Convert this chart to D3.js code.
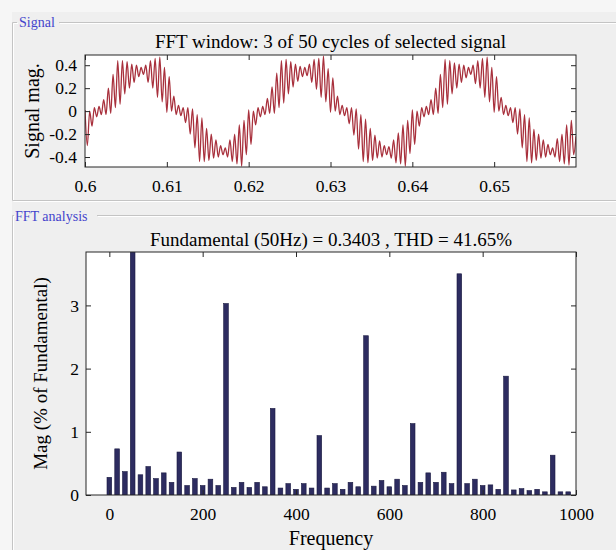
<!DOCTYPE html>
<html>
<head>
<meta charset="utf-8">
<script src="https://cdn.jsdelivr.net/npm/d3@7"></script>
<style>
  body { margin: 0; background: #efefef; }
  svg { display: block; }
  .tick text { font-family: "Liberation Serif", "Times New Roman", serif; font-size: 17.5px; fill: #000; }
  .tick line { stroke: #262626; }
  .domain { display: none; }
</style>
</head>
<body>
<div id="vis"></div>
<script>
// signal panel: extrema of the ripple (one value every sigDt seconds from sigT0)
const sigT0 = 0.6;
const sigDt = 0.02 / 70;
const sigValues = [
  // cycle 1
  0.01, -0.30, 0.00, -0.13, 0.03, -0.05, 0.04, -0.03, 0.10, -0.03,
  0.20, -0.02, 0.32, 0.03, 0.44, 0.06, 0.44, 0.15, 0.43, 0.20,
  0.41, 0.25, 0.40, 0.30, 0.38, 0.32, 0.40, 0.25, 0.44, 0.20,
  0.46, 0.12, 0.47, 0.08, 0.38, -0.01, 0.30, 0.00, 0.13, -0.03,
  0.05, -0.04, 0.03, -0.10, 0.03, -0.20, 0.02, -0.32, -0.03, -0.44,
  -0.06, -0.44, -0.15, -0.43, -0.20, -0.41, -0.25, -0.40, -0.30, -0.38,
  -0.32, -0.40, -0.25, -0.44, -0.20, -0.46, -0.12, -0.48, -0.08, -0.38,
  // cycle 2
  0.01, -0.29, 0.00, -0.12, 0.03, -0.05, 0.04, -0.03, 0.11, -0.02,
  0.21, -0.02, 0.33, 0.03, 0.44, 0.07, 0.45, 0.15, 0.43, 0.21,
  0.41, 0.26, 0.39, 0.30, 0.38, 0.31, 0.41, 0.25, 0.45, 0.19,
  0.46, 0.12, 0.48, 0.08, 0.37, -0.01, 0.29, 0.00, 0.13, -0.03,
  0.05, -0.04, 0.03, -0.11, 0.03, -0.21, 0.02, -0.33, -0.03, -0.44,
  -0.07, -0.45, -0.15, -0.43, -0.21, -0.41, -0.26, -0.40, -0.30, -0.38,
  -0.31, -0.41, -0.25, -0.45, -0.19, -0.46, -0.12, -0.48, -0.08, -0.37,
  // cycle 3
  0.01, -0.29, 0.00, -0.13, 0.03, -0.05, 0.04, -0.03, 0.10, -0.03,
  0.20, -0.02, 0.32, 0.03, 0.45, 0.06, 0.44, 0.15, 0.42, 0.20,
  0.41, 0.25, 0.40, 0.29, 0.38, 0.32, 0.40, 0.24, 0.44, 0.20,
  0.46, 0.12, 0.47, 0.08, 0.38, -0.01, 0.30, 0.00, 0.12, -0.03,
  0.05, -0.04, 0.03, -0.10, 0.03, -0.20, 0.02, -0.32, -0.03, -0.44,
  -0.06, -0.45, -0.16, -0.43, -0.20, -0.41, -0.25, -0.40, -0.29, -0.38,
  -0.32, -0.40, -0.24, -0.44, -0.20, -0.46, -0.12, -0.47, -0.08, -0.38,
  -0.22
];
const sigXTicks = [0.6, 0.61, 0.62, 0.63, 0.64, 0.65];
const sigYTicks = [-0.4, -0.2, 0, 0.2, 0.4];

// FFT panel: bins every 50/3 Hz, magnitude in % of fundamental (bin 3 = fundamental, 100%)
const binHz = 50 / 3;
const fftMag = [
  0.28, 0.73, 0.37, 100, 0.32, 0.45, 0.26, 0.35, 0.20, 0.68,
  0.15, 0.26, 0.15, 0.25, 0.15, 3.03, 0.12, 0.20, 0.12, 0.20,
  0.13, 1.37, 0.11, 0.18, 0.09, 0.18, 0.11, 0.94, 0.11, 0.18,
  0.09, 0.20, 0.13, 2.52, 0.14, 0.23, 0.13, 0.25, 0.15, 1.13,
  0.20, 0.35, 0.20, 0.36, 0.18, 3.50, 0.18, 0.25, 0.15, 0.16,
  0.09, 1.88, 0.08, 0.10, 0.07, 0.09, 0.05, 0.63, 0.05, 0.05
];
const fftXTicks = [0, 200, 400, 600, 800, 1000];
const fftYTicks = [0, 1, 2, 3];

const W = 616, H = 550;
const SERIF = '"Liberation Serif", "Times New Roman", serif';

const svg = d3.select("#vis").append("svg")
  .attr("width", W).attr("height", H);

// figure background + lighter outer strips
svg.append("rect").attr("width", W).attr("height", H).attr("fill", "#efefef");
svg.append("rect").attr("width", W).attr("height", 12).attr("fill", "#f6f6f6");
svg.append("rect").attr("width", 12).attr("height", H).attr("fill", "#f6f6f6");

// etched group-box lines
function etched(x1, y1, x2, y2) {
  svg.append("line").attr("x1", x1).attr("y1", y1).attr("x2", x2).attr("y2", y2)
    .attr("stroke", "#c4c4c4").attr("stroke-width", 1);
  svg.append("line").attr("x1", x1 + 1).attr("y1", y1 + 1).attr("x2", x2 + 1).attr("y2", y2 + 1)
    .attr("stroke", "#ffffff").attr("stroke-width", 1);
}
// Signal panel
etched(12.5, 22.5, 17, 22.5);
etched(59, 22.5, W, 22.5);
etched(12.5, 22.5, 12.5, 200.5);
etched(12.5, 200.5, W, 200.5);
// FFT panel
etched(12.5, 215.5, 14, 215.5);
etched(97, 215.5, W, 215.5);
etched(12.5, 215.5, 12.5, H);

svg.append("text").attr("x", 19).attr("y", 27)
  .attr("font-family", SERIF).attr("font-size", 14).attr("fill", "#4444cc")
  .text("Signal");
svg.append("text").attr("x", 15).attr("y", 221)
  .attr("font-family", SERIF).attr("font-size", 14).attr("fill", "#4444cc")
  .text("FFT analysis");

// ---------- signal plot ----------
const S = {left: 85, right: 576, top: 55, bottom: 167};
const X1 = d3.scaleLinear().domain([0.6, 0.66]).range([S.left, S.right]);
const Y1 = d3.scaleLinear().domain([-0.487, 0.489]).range([S.bottom, S.top]);

svg.append("rect").attr("x", S.left).attr("y", S.top)
  .attr("width", S.right - S.left).attr("height", S.bottom - S.top)
  .attr("fill", "#fff");

svg.append("clipPath").attr("id", "clip1").append("rect")
  .attr("x", S.left).attr("y", S.top)
  .attr("width", S.right - S.left).attr("height", S.bottom - S.top);

const sigLine = d3.line()
  .x((d, i) => X1(sigT0 + i * sigDt))
  .y(d => Y1(d))
  .curve(d3.curveMonotoneX);

svg.append("path").datum(sigValues)
  .attr("clip-path", "url(#clip1)")
  .attr("d", sigLine)
  .attr("fill", "none")
  .attr("stroke", "#a8303c")
  .attr("stroke-width", 1.3);

svg.append("g").attr("transform", "translate(0," + S.bottom + ")")
  .call(d3.axisBottom(X1).tickValues(sigXTicks).tickFormat(d3.format("")).tickSizeInner(-5).tickSizeOuter(0).tickPadding(13));
svg.append("g").attr("transform", "translate(0," + S.top + ")")
  .call(d3.axisTop(X1).tickValues(sigXTicks).tickFormat("").tickSizeInner(-5).tickSizeOuter(0));
svg.append("g").attr("transform", "translate(" + S.left + ",0)")
  .call(d3.axisLeft(Y1).tickValues(sigYTicks).tickFormat(d => d === 0 ? "0" : d3.format(".1f")(d).replace("\u2212", "-")).tickSizeInner(-5).tickSizeOuter(0).tickPadding(8));
svg.append("g").attr("transform", "translate(" + S.right + ",0)")
  .call(d3.axisRight(Y1).tickValues(sigYTicks).tickFormat("").tickSizeInner(-5).tickSizeOuter(0));

svg.append("rect").attr("x", S.left).attr("y", S.top)
  .attr("width", S.right - S.left).attr("height", S.bottom - S.top)
  .attr("fill", "none").attr("stroke", "#262626").attr("stroke-width", 1);

svg.append("text").attr("x", (S.left + S.right) / 2).attr("y", 48)
  .attr("text-anchor", "middle").attr("font-family", SERIF).attr("font-size", 19)
  .text("FFT window: 3 of 50 cycles of selected signal");
svg.append("text")
  .attr("transform", "translate(39," + (S.top + S.bottom) / 2 + ") rotate(-90)")
  .attr("text-anchor", "middle").attr("font-family", SERIF).attr("font-size", 20)
  .text("Signal mag.");

// ---------- FFT plot ----------
const F = {left: 86, right: 576, top: 252, bottom: 495};
const X2 = d3.scaleLinear().domain([-50, 1000]).range([F.left, F.right]);
const Y2 = d3.scaleLinear().domain([0, 3.845]).range([F.bottom, F.top]);

svg.append("rect").attr("x", F.left).attr("y", F.top)
  .attr("width", F.right - F.left).attr("height", F.bottom - F.top)
  .attr("fill", "#fff");

svg.append("clipPath").attr("id", "clip2").append("rect")
  .attr("x", F.left).attr("y", F.top)
  .attr("width", F.right - F.left).attr("height", F.bottom - F.top);

const barW = (X2(binHz) - X2(0)) * 0.6;

svg.append("g").attr("clip-path", "url(#clip2)")
  .selectAll("rect")
  .data(fftMag)
  .enter()
  .append("rect")
    .attr("x", (d, i) => X2(i * binHz) - barW / 2)
    .attr("y", d => Y2(d))
    .attr("width", barW)
    .attr("height", d => Y2(0) - Y2(d))
    .attr("fill", "#2d2c60")
    .attr("stroke", "#1a1940")
    .attr("stroke-width", 0.6);

svg.append("g").attr("transform", "translate(0," + F.bottom + ")")
  .call(d3.axisBottom(X2).tickValues(fftXTicks).tickFormat(d3.format("d")).tickSizeInner(-5).tickSizeOuter(0).tickPadding(13));
svg.append("g").attr("transform", "translate(0," + F.top + ")")
  .call(d3.axisTop(X2).tickValues(fftXTicks).tickFormat("").tickSizeInner(-5).tickSizeOuter(0));
svg.append("g").attr("transform", "translate(" + F.left + ",0)")
  .call(d3.axisLeft(Y2).tickValues(fftYTicks).tickFormat(d3.format("d")).tickSizeInner(-5).tickSizeOuter(0).tickPadding(7));
svg.append("g").attr("transform", "translate(" + F.right + ",0)")
  .call(d3.axisRight(Y2).tickValues(fftYTicks).tickFormat("").tickSizeInner(-5).tickSizeOuter(0));

svg.append("rect").attr("x", F.left).attr("y", F.top)
  .attr("width", F.right - F.left).attr("height", F.bottom - F.top)
  .attr("fill", "none").attr("stroke", "#262626").attr("stroke-width", 1);

svg.append("text").attr("x", (F.left + F.right) / 2).attr("y", 246)
  .attr("text-anchor", "middle").attr("font-family", SERIF).attr("font-size", 19)
  .text("Fundamental (50Hz) = 0.3403 , THD = 41.65%");
svg.append("text")
  .attr("transform", "translate(47," + (F.top + F.bottom) / 2 + ") rotate(-90)")
  .attr("text-anchor", "middle").attr("font-family", SERIF).attr("font-size", 19)
  .text("Mag (% of Fundamental)");
svg.append("text").attr("x", (F.left + F.right) / 2).attr("y", 545)
  .attr("text-anchor", "middle").attr("font-family", SERIF).attr("font-size", 20)
  .text("Frequency");
</script>
</body>
</html>
